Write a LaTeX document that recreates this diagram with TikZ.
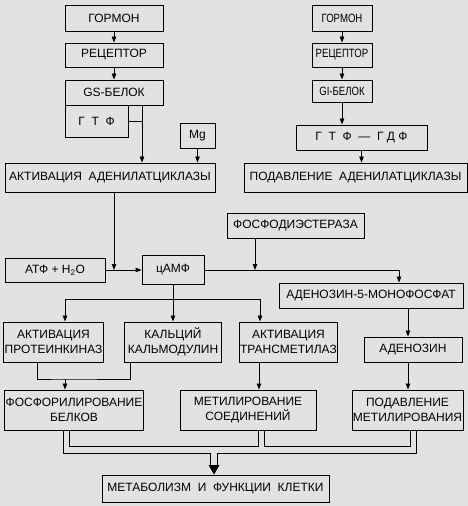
\documentclass[tikz,border=0pt]{standalone}
\usepackage{fontspec}
\setmainfont{Liberation Sans}
\definecolor{Bumaga}{HTML}{E2E2E0}
\usetikzlibrary{arrows.meta,backgrounds,positioning}

\begin{document}
\begin{tikzpicture}[x=1pt, y=-1pt,
        every node/.style={font=\fontsize{12}{15}\selectfont},
        blok/.style={rectangle, draw, line width=0.9pt, align=center, inner sep=1pt},
        uzkij/.style={font=\fontsize{12}{15}\selectfont\addfontfeature{FakeStretch=0.8}},
        strel/.style={line width=0.8pt, -{Triangle[length=6pt,width=4.5pt]}},
        linia/.style={line width=0.8pt},
        truba/.style={line width=0.9pt, double=Bumaga, double distance=5.5pt}]
    \useasboundingbox (0,0) rectangle (468,506);
    \node[blok, minimum width=98, minimum height=26] (gormA) at (114,18) {ГОРМОН};
    \node[blok, minimum width=98, minimum height=24] (recA) at (114,55) {РЕЦЕПТОР};
    \node[blok, minimum width=98, minimum height=25] (gs) at (114,92.5) {GS-БЕЛОК};
    \node[blok, minimum width=63, minimum height=32] (gtf) at (96.5,121) {Г~~Т~~Ф};
    \node[blok, minimum width=35, minimum height=25] (mg) at (197.5,135.5) {Mg};
    \node[blok, minimum width=210, minimum height=29] (aktA) at (110,177.5) {АКТИВАЦИЯ~~АДЕНИЛАТЦИКЛАЗЫ};
    \node[blok, uzkij, minimum width=60, minimum height=26] (gormB) at (342,18) {ГОРМОН};
    \node[blok, uzkij, minimum width=60, minimum height=24] (recB) at (342,55) {РЕЦЕПТОР};
    \node[blok, uzkij, minimum width=60, minimum height=22] (gi) at (342,91) {GI-БЕЛОК};
    \node[blok, minimum width=131, minimum height=25] (gtfgdf) at (361.5,137.5) {Г~~Т~~Ф~~---~~Г~Д~Ф};
    \node[blok, minimum width=223, minimum height=29] (podA) at (355.5,177.5) {ПОДАВЛЕНИЕ~~АДЕНИЛАТЦИКЛАЗЫ};
    \node[blok, minimum width=137, minimum height=25] (fde) at (295.5,225.5) {ФОСФОДИЭСТЕРАЗА};
    \node[blok, minimum width=100, minimum height=24] (atf) at (55,270) {АТФ + H\textsubscript{2}O};
    \node[blok, minimum width=62, minimum height=29] (camp) at (173,270) {цАМФ};
    \node[blok, minimum width=184, minimum height=25] (amf) at (371,295.5) {АДЕНОЗИН-5-МОНОФОСФАТ};
    \node[blok, minimum width=97, minimum height=40] (apk) at (53.5,342) {АКТИВАЦИЯ\\ПРОТЕИНКИНАЗ};
    \node[blok, minimum width=97, minimum height=40] (kalc) at (173,342) {КАЛЬЦИЙ\\КАЛЬМОДУЛИН};
    \node[blok, minimum width=97, minimum height=40] (atm) at (288.5,342) {АКТИВАЦИЯ\\ТРАНСМЕТИЛАЗ};
    \node[blok, minimum width=98, minimum height=25] (aden) at (413,349.5) {АДЕНОЗИН};
    \node[blok, minimum width=138, minimum height=40] (fosf) at (74,410) {ФОСФОРИЛИРОВАНИЕ\\БЕЛКОВ};
    \node[blok, minimum width=136, minimum height=40] (metil) at (248,410) {МЕТИЛИРОВАНИЕ\\СОЕДИНЕНИЙ};
    \node[blok, minimum width=111, minimum height=40] (podM) at (407.5,410) {ПОДАВЛЕНИЕ\\МЕТИЛИРОВАНИЯ};
    \node[blok, minimum width=227, minimum height=27] (metab) at (215.5,488.5) {МЕТАБОЛИЗМ~~И~~ФУНКЦИИ~~КЛЕТКИ};
    \coordinate (razv) at (173,299);
    \coordinate (sliv) at (65,379);
    \coordinate (niz) at (214,450);
    \draw[strel] (gormA) -- (recA);
    \draw[strel] (recA) -- (gs);
    \draw[strel] (gs.south -| 142,0) -- (aktA.north -| 142,0);
    \draw[linia] (gtf.east) -- (gtf.east -| 142,0);
    \draw[strel] (mg) -- (mg |- aktA.north);
    \draw[strel] (gormB) -- (recB);
    \draw[strel] (recB) -- (gi);
    \draw[strel] (gi) -- (gi |- gtfgdf.north);
    \draw[strel] (gtfgdf) -- (gtfgdf |- podA.north);
    \draw[strel] (aktA.south -| 114,0) -- (114,0 |- atf.east);
    \draw[strel] (atf) -- (camp);
    \draw[strel] (fde.south -| 255,0) -- (255,0 |- camp.east);
    \draw[strel] (camp.east) -| (399,0 |- amf.north);
    \draw[strel] (amf.south -| 408,0) -- (408,0 |- aden.north);
    \draw[strel] (aden.south -| 408,0) -- (408,0 |- podM.north);
    \draw[strel] (camp) -- (camp |- kalc.north);
    \draw[strel] (razv) -| (65,0 |- apk.north);
    \draw[strel] (razv) -| (260,0 |- atm.north);
    \draw[linia] (apk.south -| 37,0) |- (sliv) -| (kalc.south -| 130,0);
    \draw[strel] (sliv) -- (sliv |- fosf.north);
    \draw[strel] (atm.south -| 259,0) -- (259,0 |- metil.north);
    \begin{scope}[on background layer]
        \fill[Bumaga] (0,0) rectangle (468,506);
        \draw[truba] (fosf.south -| 66.5,0) |- (niz) -| (podM.south -| 413.5,0)
            (metil.south -| 261.5,0) -- (261.5,0 |- niz)
            (niz) -- (214,466);
    \end{scope}
    \fill (208.5,465) -- (219.5,465) -- (metab.north -| niz) -- cycle;
\end{tikzpicture}
\end{document}
